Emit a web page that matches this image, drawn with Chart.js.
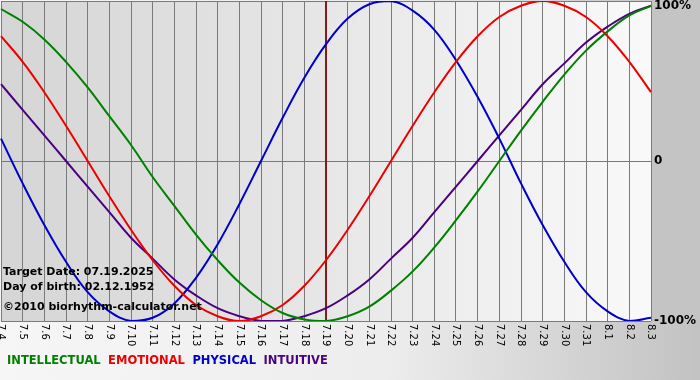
<!DOCTYPE html>
<html>
<head>
<meta charset="utf-8">
<script src="https://cdn.jsdelivr.net/npm/chart.js@4"></script>
<style>
  html, body { margin: 0; padding: 0; background: #ffffff; }
  #bioChart { display: block; }
</style>
</head>
<body>
<canvas id="bioChart" width="700" height="380"></canvas>
<script>
// days shown on the x axis
var days = ["7.4", "7.5", "7.6", "7.7", "7.8", "7.9", "7.10", "7.11", "7.12", "7.13",
  "7.14", "7.15", "7.16", "7.17", "7.18", "7.19", "7.20", "7.21", "7.22", "7.23",
  "7.24", "7.25", "7.26", "7.27", "7.28", "7.29", "7.30", "7.31", "8.1", "8.2", "8.3"];

// percent values, one per day
var intellectual = [95, 87, 76, 62, 46, 28, 10, -10, -28, -46, -62, -76, -87, -95, -99, -100,
  -97, -91, -81, -69, -54, -37, -19, 0, 19, 37, 54, 69, 81, 91, 97];
var emotional = [78, 62, 43, 22, 0, -22, -43, -62, -78, -90, -97, -100, -97, -90, -78, -62,
  -43, -22, 0, 22, 43, 62, 78, 90, 97, 100, 97, 90, 78, 62, 43];
var physical = [14, -14, -40, -63, -82, -94, -100, -98, -89, -73, -52, -27, 0, 27, 52, 73,
  89, 98, 100, 94, 82, 63, 40, 14, -14, -40, -63, -82, -94, -100, -98];
var intuitive = [48, 32, 16, 0, -16, -32, -48, -61, -74, -84, -92, -97, -100, -100, -97, -92,
  -84, -74, -61, -48, -32, -16, 0, 16, 32, 48, 61, 74, 84, 92, 97];

var yTicks = [100, 0, -100];
var yTickLabels = ["100%", "0", "-100%"];

var targetDay = "7.19";
var infoLines = ["Target Date: 07.19.2025", "Day of birth: 02.12.1952"];
var creditLine = "\u00a92010 biorhythm-calculator.net";

var seriesNames = ["INTELLECTUAL", "EMOTIONAL", "PHYSICAL", "INTUITIVE"];
var seriesColors = ["#008000", "#ee0000", "#0000cc", "#4b0082"];

var FONT = "'DejaVu Sans', Verdana, sans-serif";

var bioPlugin = {
  id: "bioPlugin",
  beforeDraw: function (chart) {
    var c = chart.ctx, a = chart.chartArea;
    c.save();
    var g = c.createLinearGradient(0, 0, chart.width, 0);
    g.addColorStop(0, "#f6f6f6");
    g.addColorStop(0.55, "#ededed");
    g.addColorStop(1, "#c2c2c2");
    c.fillStyle = g;
    c.fillRect(0, 0, chart.width, chart.height);
    c.fillStyle = "#c4c4c4";
    c.fillRect(a.right, 0, chart.width - a.right, a.bottom + 2);
    var pg = c.createLinearGradient(a.left, 0, a.right, 0);
    pg.addColorStop(0, "#d5d5d5");
    pg.addColorStop(1, "#f9f9f9");
    c.fillStyle = pg;
    c.fillRect(a.left, a.top, a.right - a.left, a.bottom - a.top);
    c.restore();
  },
  beforeDatasetsDraw: function (chart) {
    var c = chart.ctx, a = chart.chartArea;
    var x = chart.scales.x.getPixelForValue(days.indexOf(targetDay));
    c.save();
    c.strokeStyle = "#861b1b";
    c.lineWidth = 2;
    c.beginPath();
    c.moveTo(x, a.top);
    c.lineTo(x, a.bottom);
    c.stroke();
    c.restore();
  },
  afterDraw: function (chart) {
    var c = chart.ctx, a = chart.chartArea;
    var xs = chart.scales.x, ys = chart.scales.y;
    c.save();
    // x labels, turned clockwise
    c.fillStyle = "#000000";
    c.font = "10px " + FONT;
    c.textAlign = "left";
    c.textBaseline = "middle";
    days.forEach(function (d, i) {
      var px = xs.getPixelForValue(i);
      c.save();
      c.translate(px, a.bottom + 3);
      c.rotate(Math.PI / 2);
      c.fillText(d, 0, 0);
      c.restore();
    });
    // right axis labels
    c.font = "bold 12px " + FONT;
    c.textBaseline = "middle";
    yTicks.forEach(function (v, i) {
      var py = ys.getPixelForValue(v);
      if (i === 0) py += 5;
      c.fillText(yTickLabels[i], a.right + 3, py);
    });
    // info text
    c.font = "bold 11px " + FONT;
    c.textBaseline = "middle";
    c.fillText(infoLines[0], 3, 272);
    c.fillText(infoLines[1], 3, 287);
    c.fillText(creditLine, 3, 307);
    // legend text
    c.font = "bold 11.5px " + FONT;
    var lx = 7;
    seriesNames.forEach(function (n, i) {
      c.fillStyle = seriesColors[i];
      c.fillText(n, lx, 361);
      lx += c.measureText(n).width + 7.5;
    });
    c.restore();
  }
};

var ctx = document.getElementById("bioChart").getContext("2d");
var bioChart = new Chart(ctx, {
  type: "line",
  data: {
    labels: days,
    datasets: [intellectual, emotional, physical, intuitive].map(function (d, i) {
      return {
        label: seriesNames[i],
        data: d,
        borderColor: seriesColors[i],
        borderWidth: 2,
        pointRadius: 0,
        fill: false,
        tension: 0.4
      };
    })
  },
  options: {
    responsive: false,
    animation: false,
    devicePixelRatio: 1,
    layout: { padding: { left: 1, top: 1, right: 49, bottom: 59 } },
    plugins: {
      legend: { display: false },
      tooltip: { enabled: false }
    },
    scales: {
      x: {
        offset: false,
        ticks: { display: false },
        grid: { color: "#7a7a7a", lineWidth: 1, drawTicks: false },
        border: { display: false }
      },
      y: {
        position: "right",
        min: -100,
        max: 100,
        ticks: { display: false, stepSize: 100 },
        grid: { color: "#7a7a7a", lineWidth: 1, drawTicks: false },
        border: { display: false }
      }
    }
  },
  plugins: [bioPlugin]
});
</script>
</body>
</html>
